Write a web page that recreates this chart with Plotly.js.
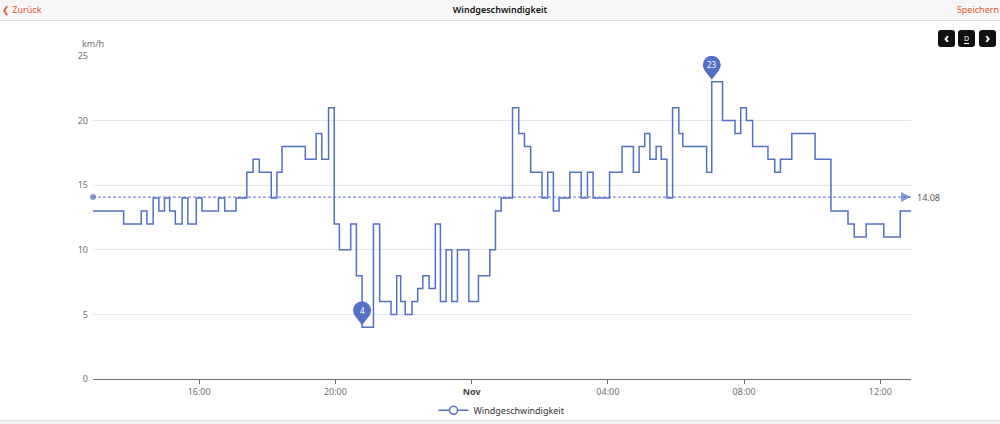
<!DOCTYPE html>
<html>
<head>
<meta charset="utf-8">
<script src="https://cdn.plot.ly/plotly-3.0.1.min.js"></script>
<style>
  html, body { margin:0; padding:0; width:1000px; height:424px; overflow:hidden; background:#fff; font-family:"Noto Sans", "Liberation Sans", sans-serif; }
  #chart { position:absolute; left:0; top:0; width:1000px; height:424px; }
  #hdr { position:absolute; left:0; top:0; width:1000px; height:20px; background:#f7f7f7; border-bottom:1px solid #d9d9d9; z-index:5; }
  #back { position:absolute; left:2px; top:3px; font-size:9px; color:#e8552d; }
  #ttl { position:absolute; left:0; width:1000px; top:3px; text-align:center; font-size:9px; font-weight:600; color:#111; }
  #save { position:absolute; right:1px; top:3px; font-size:9px; color:#e8552d; white-space:nowrap; }
  .btn { position:absolute; top:30px; width:17px; height:17px; background:#111; border-radius:3px; z-index:5; color:#fff; font-size:14px; font-weight:bold; line-height:15px; text-align:center; }
  #foot { position:absolute; left:0; top:420px; width:1000px; height:4px; background:#f2f2f2; border-top:1px solid #dcdcdc; z-index:5; }
</style>
</head>
<body>
<div id="chart"></div>
<div id="hdr">
  <div id="back">&#10094; Zurück</div>
  <div id="ttl">Windgeschwindigkeit</div>
  <div id="save">Speichern</div>
</div>
<div class="btn" style="left:938px;">&#8249;</div>
<div class="btn" style="left:958px;"><span style="font-size:7px;font-weight:normal;border-bottom:1px solid #fff;line-height:8px;display:inline-block;vertical-align:middle;">D</span></div>
<div class="btn" style="left:979px;">&#8250;</div>
<div id="foot"></div>
<script>
// ---- data ----
const seriesName = "Windgeschwindigkeit";
const unitLabel = "km/h";
const times = [
  "2023-10-31 12:53","2023-10-31 13:47","2023-10-31 14:18","2023-10-31 14:28","2023-10-31 14:39",
  "2023-10-31 14:49","2023-10-31 14:59","2023-10-31 15:08","2023-10-31 15:18","2023-10-31 15:30",
  "2023-10-31 15:40","2023-10-31 15:55","2023-10-31 16:05","2023-10-31 16:34","2023-10-31 16:45",
  "2023-10-31 17:05","2023-10-31 17:24","2023-10-31 17:35","2023-10-31 17:46","2023-10-31 18:07",
  "2023-10-31 18:17","2023-10-31 18:26","2023-10-31 19:07","2023-10-31 19:26","2023-10-31 19:36",
  "2023-10-31 19:48","2023-10-31 19:58","2023-10-31 20:07","2023-10-31 20:27","2023-10-31 20:37",
  "2023-10-31 20:47","2023-10-31 21:07","2023-10-31 21:18","2023-10-31 21:38","2023-10-31 21:48",
  "2023-10-31 21:55","2023-10-31 22:03","2023-10-31 22:15","2023-10-31 22:25","2023-10-31 22:34",
  "2023-10-31 22:45","2023-10-31 22:56","2023-10-31 23:05","2023-10-31 23:15","2023-10-31 23:25",
  "2023-10-31 23:35","2023-10-31 23:55","2023-11-01 00:12","2023-11-01 00:32","2023-11-01 00:42",
  "2023-11-01 00:52","2023-11-01 01:12","2023-11-01 01:23","2023-11-01 01:33","2023-11-01 01:44",
  "2023-11-01 02:04","2023-11-01 02:14","2023-11-01 02:24","2023-11-01 02:34","2023-11-01 02:53",
  "2023-11-01 03:13","2023-11-01 03:24","2023-11-01 03:34","2023-11-01 04:03","2023-11-01 04:25",
  "2023-11-01 04:45","2023-11-01 04:55","2023-11-01 05:05","2023-11-01 05:14","2023-11-01 05:25",
  "2023-11-01 05:34","2023-11-01 05:44","2023-11-01 05:54","2023-11-01 06:05","2023-11-01 06:12",
  "2023-11-01 06:54","2023-11-01 07:03","2023-11-01 07:22","2023-11-01 07:44","2023-11-01 07:54",
  "2023-11-01 08:04","2023-11-01 08:15","2023-11-01 08:42","2023-11-01 08:54","2023-11-01 09:04",
  "2023-11-01 09:24","2023-11-01 10:05","2023-11-01 10:33","2023-11-01 11:03","2023-11-01 11:14",
  "2023-11-01 11:35","2023-11-01 12:06","2023-11-01 12:35","2023-11-01 12:54"
];
const speeds = [
  13,12,13,12,14,
  13,14,13,12,14,
  12,14,13,14,13,
  14,16,17,16,14,
  16,18,17,19,17,
  21,12,10,12,8,
  4,12,6,5,8,
  6,5,6,7,8,
  7,12,6,10,6,
  10,6,8,10,13,
  14,21,19,18,16,
  14,16,13,14,16,
  14,16,14,16,18,
  16,18,19,17,18,
  17,14,21,19,18,
  16,23,20,19,21,
  20,18,17,16,17,
  19,17,13,12,11,
  12,11,13,13
];
const avgValue = 14.08;
const avgLabel = "14.08";
const tickTimes = ["2023-10-31 16:00","2023-10-31 20:00","2023-11-01 00:00","2023-11-01 04:00","2023-11-01 08:00","2023-11-01 12:00"];
const tickLabels = ["16:00","20:00","Nov","04:00","08:00","12:00"];
const yTicks = [0,5,10,15,20,25];

// ---- styling ----
const C = "#5470c6";
const axisGray = "#6e7079";
const FONT = "Noto Sans, Liberation Sans, sans-serif";

const tickText = tickLabels.map(t => t === "Nov" ? '<b><span style="color:#444">Nov</span></b>' : t);

const main = {
  x: times, y: speeds, type: "scatter", mode: "lines",
  line: { shape: "hv", color: C, width: 1.5 },
  name: seriesName, showlegend: false, hoverinfo: "skip"
};
const legendOnly = {
  x: [null], y: [null], type: "scatter", mode: "lines+markers",
  line: { color: C, width: 1.5 },
  marker: { symbol: "circle", size: 8, color: "#fff", line: { color: C, width: 1.5 } },
  name: seriesName, showlegend: true
};
const t0 = times[0], t1 = times[times.length - 1];
const avgTrace = {
  x: [t0, t1], y: [avgValue, avgValue], type: "scatter", mode: "lines+markers",
  line: { color: C, width: 1, dash: "3px,2px" },
  marker: { symbol: ["circle", "arrow-right"], size: [6, 10], color: C, line: { width: 0 } },
  cliponaxis: false, showlegend: false, hoverinfo: "skip"
};

const maxV = Math.max(...speeds), minV = Math.min(...speeds);
const iMax = speeds.indexOf(maxV), iMin = speeds.indexOf(minV);

function pinShapes(t, v) {
  return [
    { type: "circle", xref: "x", yref: "y", xsizemode: "pixel", ysizemode: "pixel",
      xanchor: t, yanchor: v, x0: -9, x1: 9, y0: 8, y1: 26,
      fillcolor: C, line: { width: 0 }, layer: "above" },
    { type: "path", xref: "x", yref: "y", xsizemode: "pixel", ysizemode: "pixel",
      xanchor: t, yanchor: v, path: "M -7.6 12 L 0 2 L 7.6 12 Z",
      fillcolor: C, line: { width: 0 }, layer: "above" }
  ];
}
function pinLabel(t, v) {
  return { x: t, y: v, xref: "x", yref: "y", text: String(v), showarrow: false,
    yshift: 17, font: { size: 8, color: "#fff", family: FONT } };
}

const layout = {
  width: 1000, height: 424,
  margin: { l: 93, r: 89, t: 56, b: 45, autoexpand: false },
  paper_bgcolor: "rgba(0,0,0,0)", plot_bgcolor: "#fff",
  font: { family: FONT, size: 9, color: axisGray },
  showlegend: true,
  legend: { orientation: "h", x: 0.5, xanchor: "center", y: -0.097, yanchor: "middle",
    font: { size: 9, color: "#333" }, itemwidth: 30 },
  xaxis: {
    type: "date", range: [t0, t1],
    tickvals: tickTimes, ticktext: tickText,
    showgrid: false, zeroline: false,
    showline: true, linecolor: axisGray, linewidth: 1,
    ticks: "outside", ticklen: 4, tickcolor: axisGray,
    tickfont: { size: 9, color: axisGray }
  },
  yaxis: {
    range: [0, 25], tickvals: yTicks, showgrid: true, gridcolor: "#e0e6f1", gridwidth: 1,
    zeroline: false, showline: false, ticks: "", ticklabelstandoff: 4,
    tickfont: { size: 9, color: axisGray }
  },
  shapes: [...pinShapes(times[iMax], maxV), ...pinShapes(times[iMin], minV)],
  annotations: [
    { xref: "paper", yref: "paper", x: 0, y: 1, yshift: 13, xanchor: "center", yanchor: "middle",
      text: unitLabel, showarrow: false, font: { size: 9, color: axisGray } },
    { x: t1, y: avgValue, xref: "x", yref: "y", xanchor: "left", xshift: 4, text: avgLabel,
      showarrow: false, font: { size: 9, color: "#555" } },
    pinLabel(times[iMax], maxV), pinLabel(times[iMin], minV)
  ]
};

Plotly.newPlot("chart", [main, avgTrace, legendOnly], layout, { displayModeBar: false, staticPlot: true });
</script>
</body>
</html>
